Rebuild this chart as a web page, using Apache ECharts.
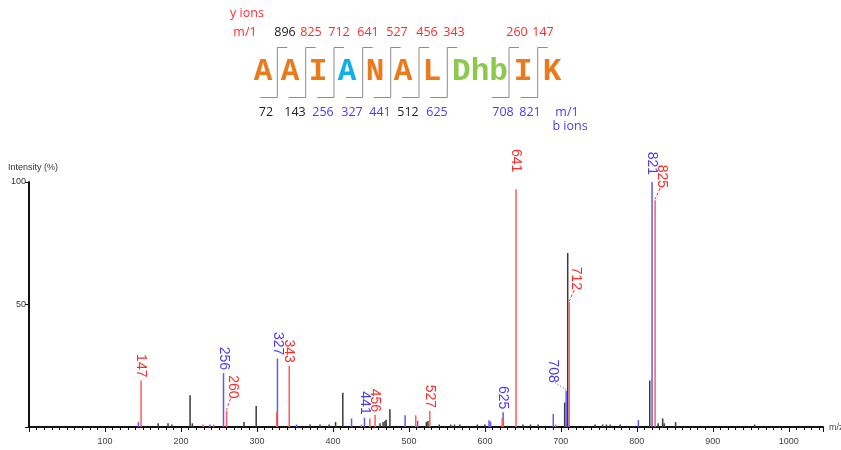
<!DOCTYPE html>
<html><head><meta charset="utf-8">
<script src="https://cdn.jsdelivr.net/npm/echarts@6/dist/echarts.min.js"></script>
<style>html,body{margin:0;padding:0;background:#fff}#c{width:841px;height:450px}</style>
</head><body><div id="c"></div>
<script>
// ---------- data ----------
const residues = ['A','A','I','A','N','A','L','Dhb','I','K'];
const residueGroup = ['plain','plain','plain','marked','plain','plain','plain','dhb','plain','plain'];
const yIons = ['896','825','712','641','527','456','343','260','147'];
const yObserved = [false,true,true,true,true,true,true,true,true];
const bIons = ['72','143','256','327','441','512','625','708','821'];
const bObserved = [false,false,true,true,true,false,true,true,true];

// unassigned peaks [m/z, intensity %]
const otherPeaks = [
  [170,1.5],[183,1.5],[188,1],[212,13],[215,1.5],[283,2],[299,8.6],[370,1],[383,1],[395,1],
  [403.5,2],[413,14],[462,1.5],[466,2],[468.5,2.5],[470,3],[475,7.2],[523,2],[525,2.5],[540,1],
  [555,1],[560,1],[567,1],[590,1],[600,1],[650,1],[660,1],[670,1],[705,10],[709,71],
  [745,1],[755,1],[760,1],[765,1],[778,1],[817,19],[828,1.5],[834,3.5],[836,1.5],[851,2],[955,1]
];
// b-ion peaks
const bPeaks = [
  [144,2],[238,1],[256,22],[327,28],[352,1],[424.5,3.5],[441.5,3.8],[495,4.8],[511.5,2.5],
  [605.5,2.8],[607.5,2.2],[624,6],[690,5.3],[707,14.8],[802,2.8],[820,100]
];
// y-ion peaks
const yPeaks = [
  [147.5,19],[229,1],[243,1],[260,6.7],[326,6],[342.5,25],[437.5,1],[448.5,3.5],[455.5,4.9],
  [509,4.8],[527.5,6.5],[622.8,3.8],[641,97],[693,1],[711,51],[824,92.6]
];
// labelled peaks [m/z, intensity %, label]
const bLabels = [[256,22,'256'],[327,28,'327'],[441.5,3.8,'441'],[624,6,'625'],[707,14.8,'708'],[820,100,'821']];
const yLabels = [[147.5,19,'147'],[260,6.7,'260'],[342.5,25,'343'],[455.5,4.9,'456'],[527.5,6.5,'527'],[641,97,'641'],[711,51,'712'],[824,92.6,'825']];

// ---------- styles / layout ----------
const C_RED = '#ff2b2b', C_BLUE = '#4a3cf5';
const PEAK_RED = '#ff5c5c', PEAK_BLUE = '#5a5aff', PEAK_BLACK = '#3a3a3a';
const resColor = {plain:'#ea7a1c', marked:'#12aee8', dhb:'#8cc84b'};
const labelOffsets = {'260':[6,-9,'dash'], '712':[7,-9,'dash'], '825':[7,-9,'dash'], '708':[-13,-5,'dot'], '641':[0,-14,'none'], '821':[0,-4,'none']};
const resX = [263,290,318,347,375,403,432,480,523,552];
const cutX = [277.3,305.7,334,362.7,390.7,419,447.3,509,537.7];
const yIonX = [285,311,339,368,397,427,454,517,543];
const bIonX = [266,295,323,352,380,408,437,503,530];
const NUMFONT = '"Open Sans", "Liberation Sans", sans-serif';

const graphics = [];
residues.forEach((r,i)=>{
  graphics.push({type:'text', x:resX[i], y:72, style:{text:r, fill:resColor[residueGroup[i]],
    font:'bold 31px "Liberation Mono", monospace', align:'center', verticalAlign:'middle'}});
});
cutX.forEach(x=>{
  graphics.push({type:'polyline', shape:{points:[[x+10,47.5],[x,47.5],[x,97.5],[x-17,97.5]]},
    style:{stroke:'#8c8c8c', lineWidth:1, fill:null}});
});
yIons.forEach((t,i)=>{
  graphics.push({type:'text', x:yIonX[i], y:32, style:{text:t, fill:yObserved[i]?C_RED:'#222',
    font:'12.5px '+NUMFONT, align:'center', verticalAlign:'middle'}});
});
bIons.forEach((t,i)=>{
  graphics.push({type:'text', x:bIonX[i], y:112, style:{text:t, fill:bObserved[i]?C_BLUE:'#222',
    font:'12.5px '+NUMFONT, align:'center', verticalAlign:'middle'}});
});
graphics.push({type:'text', x:247, y:13, style:{text:'y ions', fill:C_RED, font:'12.5px '+NUMFONT, align:'center', verticalAlign:'middle'}});
graphics.push({type:'text', x:245, y:32, style:{text:'m/1', fill:C_RED, font:'12.5px '+NUMFONT, align:'center', verticalAlign:'middle'}});
graphics.push({type:'text', x:567, y:112, style:{text:'m/1', fill:C_BLUE, font:'12.5px '+NUMFONT, align:'center', verticalAlign:'middle'}});
graphics.push({type:'text', x:570, y:126, style:{text:'b ions', fill:C_BLUE, font:'12.5px '+NUMFONT, align:'center', verticalAlign:'middle'}});
graphics.push({type:'text', x:8, y:168, style:{text:'Intensity (%)', fill:'#333', font:'9px "Liberation Sans", sans-serif', verticalAlign:'middle'}});
graphics.push({type:'text', x:829, y:428, style:{text:'m/z', fill:'#444', font:'9px "Liberation Sans", sans-serif', verticalAlign:'middle'}});

function peakSeries(data, color){
  return {type:'custom', data:data, encode:{x:0,y:1}, silent:true, clip:true,
    renderItem:function(params, api){
      const p0 = api.coord([api.value(0),0]);
      const p1 = api.coord([api.value(0),api.value(1)]);
      return {type:'line', shape:{x1:p0[0],y1:p0[1],x2:p1[0],y2:p1[1]},
        style:{stroke:color, lineWidth:1.5}};
    }};
}
function labelSeries(data, color){
  return {type:'custom', data:data.map(d=>[d[0],d[1]]), encode:{x:0,y:1}, silent:true, clip:false,
    renderItem:function(params, api){
      const d = data[params.dataIndex];
      const p = api.coord([d[0], d[1]]);
      const off = labelOffsets[d[2]];
      const ax = p[0] + (off?off[0]:0), ay = p[1] - 3 + (off?off[1]:0);
      const kids = [{type:'text', x:ax, y:ay, rotation:-Math.PI/2,
        style:{text:d[2], fill:color, font:'14px "Liberation Sans", sans-serif', align:'right', verticalAlign:'middle'}}];
      if(off && off[2] !== 'none'){
        kids.push({type:'line', shape:{x1:ax-(off[0]>0?2:-2), y1:ay, x2:p[0], y2:p[1]-1},
          style:{stroke:color, lineWidth:1, lineDash:off[2]==='dot'?[1,2]:[3,2]}});
      }
      return {type:'group', children:kids};
    }};
}

const chart = echarts.init(document.getElementById('c'), null, {renderer:'canvas'});
chart.setOption({
  animation:false,
  backgroundColor:'#fff',
  grid:{left:29, right:18, top:182, bottom:23, containLabel:false},
  xAxis:{type:'value', min:0, max:1045, interval:100,
    axisLine:{lineStyle:{color:'#111', width:2}},
    axisTick:{show:true, length:5, lineStyle:{color:'#111'}},
    minorTick:{show:true, splitNumber:10, length:3, lineStyle:{color:'#111'}},
    splitLine:{show:false},
    axisLabel:{color:'#444', fontSize:9, fontFamily:'Liberation Sans', margin:10, showMaxLabel:false,
      formatter:v=> v===0?'':String(v)}},
  yAxis:{type:'value', min:0, max:100, interval:50,
    axisLine:{show:true, lineStyle:{color:'#111', width:2}},
    axisTick:{show:true, length:4, lineStyle:{color:'#111'}},
    splitLine:{show:false},
    axisLabel:{color:'#333', fontSize:9, fontFamily:'Liberation Sans', margin:3,
      formatter:v=> v===0?'':String(v)}},
  graphic:graphics,
  series:[
    peakSeries(otherPeaks, PEAK_BLACK),
    peakSeries(bPeaks, PEAK_BLUE),
    peakSeries(yPeaks, PEAK_RED),
    labelSeries(bLabels, C_BLUE),
    labelSeries(yLabels, C_RED)
  ]
});
</script></body></html>
